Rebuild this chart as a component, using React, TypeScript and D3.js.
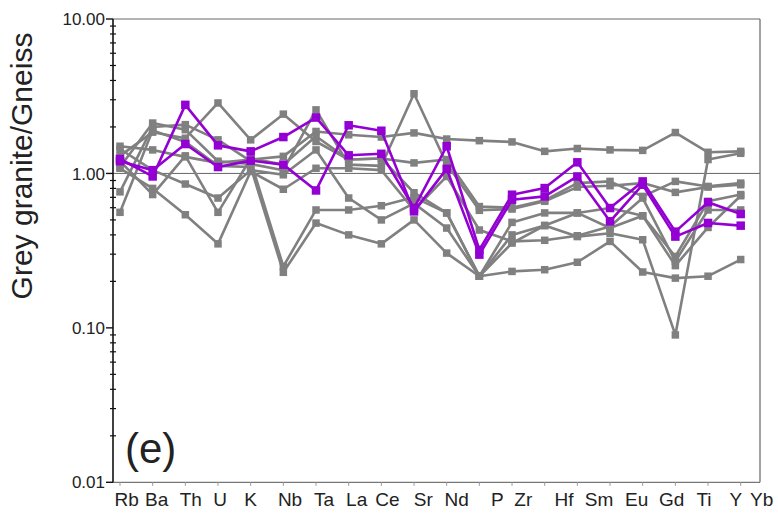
import React from 'react';
import * as d3 from 'd3';

const categories = ['Rb','Ba','Th','U','K','Nb','Ta','La','Ce','Sr','Nd','P','Zr','Hf','Sm','Eu','Gd','Ti','Y','Yb'];
const yTicks = [10, 1, 0.1, 0.01];
const yTickLabels = ['10.00', '1.00', '0.10', '0.01'];
const yTitle = 'Grey granite/Gneiss';
const panelLabel = '(e)';

const gray1 = [1.50, 1.42, 1.28, 1.17, 1.23, 1.29, 1.87, 1.78, 1.72, 1.83, 1.67, 1.63, 1.60, 1.39, 1.45, 1.42, 1.41, 1.84, 1.37, 1.39];
const gray2 = [1.30, 1.85, 1.69, 2.86, 1.65, 2.42, 1.61, 1.23, 1.25, 1.17, 1.23, 0.61, 0.60, 0.669, 0.866, 0.888, 0.71, 0.888, 0.824, 0.866];
const gray3 = [1.10, 2.12, 1.92, 1.20, 1.15, 1.05, 2.58, 1.14, 1.12, 3.28, 1.15, 0.577, 0.588, 0.66, 0.816, 0.833, 0.866, 0.754, 0.816, 0.845];
const gray4 = [0.76, 2.0, 2.07, 1.65, 1.20, 0.25, 0.58, 0.58, 0.618, 0.70, 0.555, 0.216, 0.482, 0.555, 0.555, 0.443, 0.532, 0.29, 0.66, 0.73];
const gray5 = [0.56, 1.9, 1.60, 1.12, 1.10, 0.229, 0.477, 0.40, 0.35, 0.50, 0.305, 0.216, 0.232, 0.238, 0.266, 0.363, 0.23, 0.21, 0.216, 0.277];
const gray6 = [1.44, 1.05, 0.854, 0.693, 1.05, 0.98, 1.42, 0.693, 0.50, 0.64, 0.443, 0.216, 0.40, 0.46, 0.39, 0.41, 0.372, 0.09, 1.23, 1.35];
const gray7 = [1.08, 0.80, 0.54, 0.35, 1.03, 0.79, 1.08, 1.08, 1.05, 0.58, 0.956, 0.43, 0.363, 0.369, 0.395, 0.454, 0.693, 0.27, 0.58, 0.58];
const gray8 = [1.20, 0.73, 1.30, 0.56, 1.25, 1.14, 1.74, 1.23, 1.25, 0.75, 0.555, 0.216, 0.354, 0.46, 0.555, 0.597, 0.532, 0.253, 0.447, 0.717];

const purple1 = [1.24, 0.956, 2.78, 1.52, 1.39, 1.72, 2.30, 1.31, 1.34, 0.597, 1.50, 0.32, 0.728, 0.804, 1.18, 0.597, 0.888, 0.42, 0.65, 0.546];
const purple2 = [1.20, 1.05, 1.55, 1.10, 1.21, 1.14, 0.776, 2.05, 1.89, 0.568, 1.07, 0.298, 0.676, 0.71, 0.956, 0.49, 0.845, 0.39, 0.478, 0.459];

const graySeries = [gray1, gray2, gray3, gray4, gray5, gray6, gray7, gray8];
const purpleSeries = [purple1, purple2];

// layout: horizontal nudge of each category label from its tick (label text is offset in the source figure)
const labelNudge = [6.7, 4, 5.4, 2, 0, 6.7, 8, 8, 6, 9.3, 10, 18, 11.3, 19.3, 21.7, 26.7, 29, 28.6, 27.7, 21];

const W = 778, H = 515;
const left = 113, right = 760, top = 19, bottom = 482.3;

export default function App() {
  const x = d3.scalePoint<string>().domain(categories).range([120, 740.7]);
  const y = d3.scaleLog().domain([0.01, 10]).range([bottom, top]);
  const line = d3.line<number>()
    .x((_, i) => x(categories[i]) as number)
    .y((d) => y(d));

  const minor: number[] = [];
  for (const dec of [0.01, 0.1, 1]) {
    for (let k = 2; k <= 9; k++) minor.push(dec * k);
  }

  const grayColor = '#808080';
  const purpleColor = '#9400D3';

  const renderSeries = (s: number[], color: string, size: number, key: string) => (
    <g key={key}>
      <path d={line(s) || ''} fill="none" stroke={color} strokeWidth={2.6} strokeLinejoin="round" />
      {s.map((v, i) => (
        <rect key={i} x={(x(categories[i]) as number) - size / 2} y={y(v) - size / 2} width={size} height={size} fill={color} />
      ))}
    </g>
  );

  return (
    <svg width={W} height={H} style={{ position: 'absolute', left: 0, top: 0, background: '#fff' }} fontFamily="'Liberation Sans', Arial, sans-serif">
      <rect x={0} y={0} width={W} height={H} fill="#fff" />
      {/* frame */}
      <line x1={left} x2={right} y1={top} y2={top} stroke="#666" strokeWidth={1} />
      <line x1={right} x2={right} y1={top} y2={bottom} stroke="#666" strokeWidth={1.2} />
      <line x1={left} x2={right} y1={bottom} y2={bottom} stroke="#777" strokeWidth={1.2} />
      {/* reference line at 1 */}
      <line x1={left} x2={right} y1={y(1)} y2={y(1)} stroke="#666" strokeWidth={1} />
      {/* x ticks */}
      {categories.map((c) => (
        <line key={c} x1={x(c) as number} x2={x(c) as number} y1={bottom} y2={bottom + 3.5} stroke="#999" strokeWidth={1} />
      ))}
      {/* series */}
      {graySeries.map((s, i) => renderSeries(s, grayColor, 7.5, 'g' + i))}
      {purpleSeries.map((s, i) => renderSeries(s, purpleColor, 8.5, 'p' + i))}
      {/* y axis */}
      <line x1={left} x2={left} y1={top} y2={bottom} stroke="#111" strokeWidth={1.6} />
      {minor.map((m, i) => (
        <line key={i} x1={left - 3} x2={left + 3} y1={y(m)} y2={y(m)} stroke="#111" strokeWidth={1.2} />
      ))}
      {yTicks.map((t, i) => (
        <g key={t}>
          <line x1={left - 7} x2={left} y1={y(t)} y2={y(t)} stroke="#111" strokeWidth={1.4} />
          <text x={left - 8} y={y(t)} dy="0.36em" textAnchor="end" fontSize={17} fill="#222">{yTickLabels[i]}</text>
        </g>
      ))}
      {/* x labels */}
      {categories.map((c, i) => (
        <text key={c} x={(x(c) as number) + labelNudge[i]} y={506} textAnchor="middle" fontSize={19} fill="#222">{c}</text>
      ))}
      {/* y title */}
      <text transform={`translate(32,166) rotate(-90)`} textAnchor="middle" fontSize={30} fill="#222">{yTitle}</text>
      {/* panel label */}
      <text x={125} y={463} fontSize={42} fill="#222">{panelLabel}</text>
    </svg>
  );
}
